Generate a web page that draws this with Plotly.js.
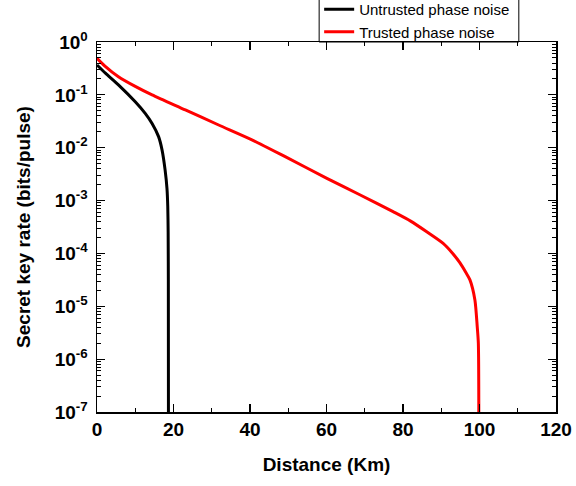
<!DOCTYPE html>
<html>
<head>
<meta charset="utf-8">
<script src="https://cdn.plot.ly/plotly-3.0.1.min.js"></script>
<style>html,body{margin:0;padding:0;background:#fff;}#chart{width:576px;height:486px;}</style>
</head>
<body>
<div id="chart"></div>
<script>
// Untrusted phase noise (black)
const untrustedDist = [0, 2.2, 5.6, 10.0, 12.6, 14.4, 16.1, 17.0, 17.8, 18.3, 18.5, 18.6, 18.65, 18.7];
const untrustedRate = [0.367, 0.257, 0.155, 0.0741, 0.0447, 0.0288, 0.0162, 0.00912, 0.0038, 0.00166, 0.000776, 0.000251, 3.16e-5, 1e-9];
// Trusted phase noise (red)
const trustedDist = [0, 2, 5.6, 10, 14.4, 23.1, 31.8, 40.5, 49.2, 60.1, 68.7, 77.4, 82, 86.2, 90.5, 93, 94.9, 96.4, 97.5, 98.8, 99.4, 99.7, 99.8];
const trustedRate = [0.492, 0.355, 0.221, 0.145, 0.100, 0.0519, 0.0269, 0.0141, 0.00676, 0.00263, 0.00129, 0.000617, 0.000409, 0.000257, 0.000155, 0.0001, 6.61e-5, 4.4e-5, 3.16e-5, 1.32e-5, 4.17e-6, 2.0e-6, 1e-9];

const seriesNames = ["Untrusted phase noise", "Trusted phase noise"];
const xTickVals = [0, 20, 40, 60, 80, 100, 120];
const xMinorVals = [10, 30, 50, 70, 90, 110];
const yTickVals = [1, 0.1, 0.01, 0.001, 1e-4, 1e-5, 1e-6, 1e-7];
const yTickText = ["10<sup>0</sup>", "10<sup>-1</sup>", "10<sup>-2</sup>", "10<sup>-3</sup>", "10<sup>-4</sup>", "10<sup>-5</sup>", "10<sup>-6</sup>", "10<sup>-7</sup>"];
const yMinorVals = [];
for (let e = -7; e < 0; e++) for (let m = 2; m <= 9; m++) yMinorVals.push(m * Math.pow(10, e));

const FONT = "Arial, 'Liberation Sans', sans-serif";

const traces = [
  {x: untrustedDist, y: untrustedRate, name: seriesNames[0], mode: 'lines', line: {color: '#000000', width: 3, shape: 'spline', smoothing: 0.7}},
  {x: trustedDist, y: trustedRate, name: seriesNames[1], mode: 'lines', line: {color: '#ff0000', width: 3, shape: 'spline', smoothing: 0.7}}
];

const layout = {
  width: 576, height: 486,
  margin: {l: 97, r: 20, t: 42, b: 74, autoexpand: false},
  paper_bgcolor: '#fff', plot_bgcolor: '#fff',
  font: {family: FONT, color: '#000'},
  showlegend: true,
  legend: {
    x: 0.484, y: 0.9838, xanchor: 'left', yanchor: 'bottom',
    bgcolor: 'rgba(0,0,0,0)', borderwidth: 0,
    font: {family: FONT, size: 15, color: '#000'},
    tracegroupgap: 0
  },
  shapes: [
    {type: 'rect', xref: 'paper', yref: 'paper', x0: 0.484, x1: 0.919, y0: 1, y1: 1.2,
     line: {color: '#000', width: 1}, fillcolor: 'rgba(0,0,0,0)', layer: 'above'}
  ],
  xaxis: {
    range: [0, 120], tickmode: 'array', tickvals: xTickVals,
    ticks: 'inside', ticklen: 8, tickwidth: 1.2, tickcolor: '#000',
    minor: {tickmode: 'array', tickvals: xMinorVals, ticks: 'inside', ticklen: 4, tickwidth: 1.2, tickcolor: '#000'},
    showline: true, linecolor: '#000', linewidth: 1.5, mirror: 'ticks',
    showgrid: false, zeroline: false,
    tickfont: {family: FONT, size: 19, weight: 'bold', color: '#000'},
    title: {text: 'Distance (Km)', font: {family: FONT, size: 19, weight: 'bold', color: '#000'}, standoff: 18}
  },
  yaxis: {
    type: 'log', range: [-7, 0], tickmode: 'array', tickvals: yTickVals, ticktext: yTickText,
    ticks: 'inside', ticklen: 8, tickwidth: 1.2, tickcolor: '#000',
    minor: {tickmode: 'array', tickvals: yMinorVals, ticks: 'inside', ticklen: 4, tickwidth: 1, tickcolor: '#000'},
    showline: true, linecolor: '#000', linewidth: 1.5, mirror: 'ticks',
    showgrid: false, zeroline: false,
    tickfont: {family: FONT, size: 19, weight: 'bold', color: '#000'},
    ticklabelstandoff: 4,
    title: {text: 'Secret key rate (bits/pulse)', font: {family: FONT, size: 19, weight: 'bold', color: '#000'}, standoff: 19}
  }
};

Plotly.newPlot('chart', traces, layout, {displayModeBar: false, staticPlot: true});
</script>
</body>
</html>
